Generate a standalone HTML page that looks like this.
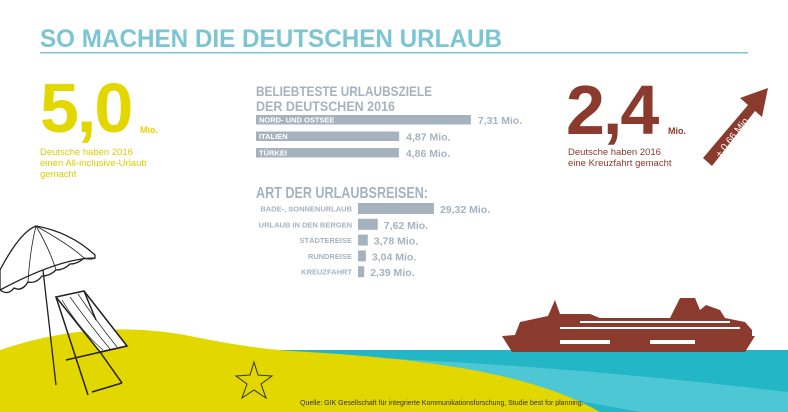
<!DOCTYPE html>
<html><head><meta charset="utf-8"><style>
body{margin:0;width:788px;height:412px;overflow:hidden;background:#fff;font-family:"Liberation Sans",sans-serif}
svg{display:block}
</style></head><body>
<svg width="788" height="412" viewBox="0 0 788 412">
<rect x="260" y="350" width="528" height="62" fill="#22b6c6"/>
<path d="M330,356 C480,362 620,372 788,392 L788,412 L640,412 Z" fill="#4cc7d3"/>
<path d="M0,412 L0,350 Q100,316 200,338 Q250,348 290,351 C420,358 530,372 600,412 Z" fill="#e3d700"/>
<g stroke="#222" stroke-width="1.3" fill="#fff">
<path d="M0,270 Q20,232 36,226 Q70,232 95,255 L95,258 Q60,258 0,290 Z"/>
<path d="M0,290 Q8,296 14,288 Q22,292 28,282 Q36,284 42,276 Q50,276 56,270 Q64,270 70,264 Q78,264 84,258 Q90,260 95,258" fill="none"/>
<path d="M36,226 Q30,250 28,282 M36,226 Q50,250 56,270 M36,226 Q70,245 84,258" fill="none" stroke-width="0.8"/>
<line x1="43" y1="270" x2="56" y2="385"/>
</g>
<g stroke="#222" stroke-width="1.5" fill="none">
<path d="M56,297 L84,291 L127,346 L100,352 Z" fill="#fff"/>
<path d="M62,300 Q80,330 103,350 M70,297 Q90,325 110,349 M78,294 Q97,322 117,347" stroke-width="0.7"/>
<line x1="56" y1="297" x2="88" y2="395"/>
<line x1="84" y1="291" x2="96" y2="320"/>
<line x1="66" y1="360" x2="127" y2="346"/>
<line x1="100" y1="352" x2="122" y2="383"/>
<line x1="92" y1="392" x2="122" y2="383"/>
</g>
<path d="M254,362 L258,375 L272,376 L261,384 L266,398 L254,390 L242,398 L247,384 L236,376 L250,375 Z" fill="none" stroke="#333" stroke-width="1"/>
<g fill="#8b3a2e">
<path d="M502,336 L752,336 L752,330 L745,322 L725,318 L720,310 L706,305 L700,310 L695,298 L680,298 L670,318 L600,318 L590,314 L560,314 L555,300 L548,316 L520,322 L515,335 Z"/>
<path d="M502,336 L755,336 L745,352 L512,352 Z"/>
<rect x="580" y="321" width="150" height="2" fill="#fff"/>
<rect x="560" y="327" width="180" height="2" fill="#fff"/>
<rect x="560" y="340" width="50" height="4" fill="#fff"/>
<rect x="650" y="340" width="45" height="4" fill="#fff"/>
</g>
<text x="40" y="47" font-size="25" font-weight="bold" fill="#7cc6d3" textLength="462" lengthAdjust="spacingAndGlyphs">SO MACHEN DIE DEUTSCHEN URLAUB</text>
<rect x="40" y="52" width="708" height="1.5" fill="#7cc6d3"/>
<text x="40" y="132" font-size="70" font-weight="bold" fill="#e3d700" letter-spacing="-2">5,0</text>
<text x="140" y="133" font-size="9" font-weight="bold" fill="#e3d700">Mio.</text>
<g font-size="9.5" fill="#d9cf00">
<text x="40" y="155">Deutsche haben 2016</text><text x="40" y="166">einen All-inclusive-Urlaub</text><text x="40" y="177">gemacht</text></g>
<text x="566" y="134" font-size="70" font-weight="bold" fill="#8b3a2e" letter-spacing="-2">2,4</text>
<text x="668" y="134" font-size="9" font-weight="bold" fill="#8b3a2e">Mio.</text>
<g font-size="9.5" fill="#8b3a2e">
<text x="568" y="155">Deutsche haben 2016</text><text x="568" y="166">eine Kreuzfahrt gemacht</text></g>
<g>
<path d="M703,158 L748,105 L740,98 L768,88 L762,117 L755,111 L712,166 Z" fill="#8b3a2e"/>
<text x="0" y="0" font-size="10" fill="#fff" transform="translate(720,158) rotate(-52)">+ 0,66 Mio.</text>
</g>
<g font-size="14" font-weight="bold" fill="#a6b3bf">
<text x="256" y="96" textLength="176" lengthAdjust="spacingAndGlyphs">BELIEBTESTE URLAUBSZIELE</text>
<text x="256" y="111" textLength="139" lengthAdjust="spacingAndGlyphs">DER DEUTSCHEN 2016</text>
<text x="256" y="198" font-size="16" textLength="172" lengthAdjust="spacingAndGlyphs">ART DER URLAUBSREISEN:</text>
</g>
<g id="c1"></g><g id="c2"></g>
<text x="300" y="405" font-size="7" fill="#333">Quelle: GIK Gesellschaft für integrierte Kommunikationsforschung, Studie best for planning.</text>
</svg>
<script>
const destCats=["NORD- UND OSTSEE","ITALIEN","TÜRKEI"];
const destVals=[7.31,4.87,4.86];
const destLabels=["7,31 Mio.","4,87 Mio.","4,86 Mio."];
const typeCats=["BADE-, SONNENURLAUB","URLAUB IN DEN BERGEN","STÄDTEREISE","RUNDREISE","KREUZFAHRT"];
const typeVals=[29.32,7.62,3.78,3.04,2.39];
const typeLabels=["29,32 Mio.","7,62 Mio.","3,78 Mio.","3,04 Mio.","2,39 Mio."];
const NS="http://www.w3.org/2000/svg";
function mk(t,a,p){const e=document.createElementNS(NS,t);for(const k in a)e.setAttribute(k,a[k]);p.appendChild(e);return e;}
const x1=v=>v*29.4, y1=i=>115+i*16.5;
const g1=document.getElementById('c1');
destVals.forEach((v,i)=>{
 const r=mk('rect',{x:256,y:y1(i),width:x1(v),height:9.5,fill:'#a6b3bf'},g1);
 
 
 const c=mk('text',{x:259,y:y1(i)+7.5,'font-size':7.5,'font-weight':'bold',fill:'#fff'},g1);c.textContent=destCats[i];
 
 
 const t=mk('text',{x:256+x1(v)+7,y:y1(i)+9,'font-size':10.5,'font-weight':'bold',fill:'#a6b3bf'},g1);t.textContent=destLabels[i];
 
 
});
const x2=v=>v*2.59, y2=i=>203+i*15.8;
const g2=document.getElementById('c2');
typeVals.forEach((v,i)=>{
 const r=mk('rect',{x:358,y:y2(i),width:x2(v),height:11,fill:'#a6b3bf'},g2);
 
 
 const c=mk('text',{x:352,y:y2(i)+8.5,'font-size':7.5,'font-weight':'bold',fill:'#a6b3bf','text-anchor':'end'},g2);c.textContent=typeCats[i];
 
 
 const t=mk('text',{x:358+x2(v)+6,y:y2(i)+10,'font-size':10.5,'font-weight':'bold',fill:'#a6b3bf'},g2);t.textContent=typeLabels[i];
 
 
});
</script>
</body></html>
